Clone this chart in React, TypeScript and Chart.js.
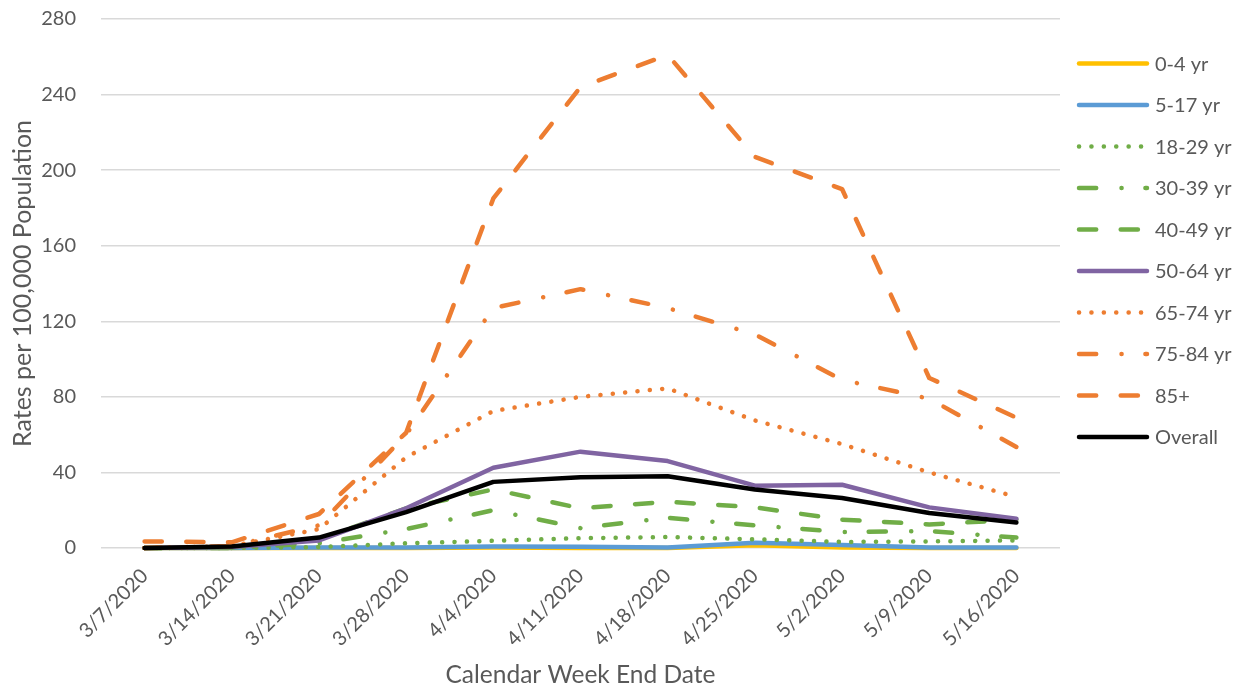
import { useEffect, useRef } from "react";
import { Chart, registerables } from "chart.js";

Chart.register(...registerables);

const FONT = "Lato, 'Open Sans', sans-serif";
const TEXT = "#595959";
const GRID = "#d9d9d9";

// Week-ending dates (x categories)
const weeks = [
  "3/7/2020", "3/14/2020", "3/21/2020", "3/28/2020", "4/4/2020", "4/11/2020",
  "4/18/2020", "4/25/2020", "5/2/2020", "5/9/2020", "5/16/2020",
];

// Weekly rates per 100,000 population by age group
const age0to4 = [0, 0, 0, 0, 0.3, 0, 0, 1.5, 0.3, 0, 0];
const age5to17 = [0, 0, 0.2, 0.3, 0.8, 0.6, 0.3, 2.8, 1.6, 0.3, 0.3];
const age18to29 = [0, 0, 0.5, 2.5, 3.8, 5.2, 5.8, 4.6, 3.2, 3.5, 4];
const age30to39 = [0, 0, 2.5, 10, 20, 10.5, 16, 12, 8.5, 9, 5.5];
const age40to49 = [0, 0.3, 4.5, 21, 31, 21, 24.5, 21.5, 15, 12.5, 15];
const age50to64 = [0, 0.5, 4, 21, 42.5, 51, 46, 33, 33.5, 21.5, 15.5];
const age65to74 = [0, 1, 10, 48, 72.5, 80, 84.5, 67.5, 55, 40, 27];
const age75to84 = [0, 1, 12, 60, 127, 137, 127, 113, 89, 79, 53.5];
const age85plus = [3.5, 3, 18, 61, 185, 244, 261, 207, 190, 90, 69];
const overall = [0, 0.8, 5.5, 19, 35, 37.5, 38, 31, 26.5, 18.5, 13.5];

const seriesNames = [
  "0-4 yr", "5-17 yr", "18-29 yr", "30-39 yr", "40-49 yr",
  "50-64 yr", "65-74 yr", "75-84 yr", "85+", "Overall",
];
const seriesValues = [
  age0to4, age5to17, age18to29, age30to39, age40to49,
  age50to64, age65to74, age75to84, age85plus, overall,
];

// Line styles
const SOLID: number[] = [];
const DOT = [0.1, 12.3];
const DASH = [17.2, 24.5];
const DASH_DOT = [17.2, 25.3, 0.1, 23.8];

const seriesColors = [
  "#FFC000", "#5B9BD5", "#70AD47", "#70AD47", "#70AD47",
  "#8064A2", "#ED7D31", "#ED7D31", "#ED7D31", "#000000",
];
const seriesDashes = [SOLID, SOLID, DOT, DASH_DOT, DASH, SOLID, DOT, DASH_DOT, DASH, SOLID];

const LINE_W = 4.5;

// Legend drawn to the right of the plot area, one row per series
const sideLegend = {
  id: "sideLegend",
  afterDraw(chart: any) {
    const { ctx, chartArea } = chart;
    const x0 = chartArea.right + 19;
    const x1 = x0 + 68;
    ctx.save();
    chart.data.datasets.forEach((ds: any, i: number) => {
      const y = 63.5 + i * 41.5;
      ctx.beginPath();
      ctx.strokeStyle = ds.borderColor;
      ctx.lineWidth = ds.borderWidth;
      ctx.lineCap = "round";
      ctx.setLineDash(ds.borderDash || []);
      ctx.moveTo(x0, y);
      ctx.lineTo(x1, y);
      ctx.stroke();
      ctx.setLineDash([]);
      ctx.fillStyle = TEXT;
      ctx.font = `20px ${FONT}`;
      ctx.textAlign = "left";
      ctx.textBaseline = "middle";
      ctx.fillText(ds.label, x1 + 8, y + 1);
    });
    ctx.restore();
  },
};

export default function App() {
  const canvasRef = useRef<HTMLCanvasElement | null>(null);

  useEffect(() => {
    if (!canvasRef.current) return;
    const n = seriesNames.length;
    const chart = new Chart(canvasRef.current, {
      type: "line",
      data: {
        labels: weeks,
        datasets: seriesNames.map((name, i) => ({
          label: name,
          data: seriesValues[i],
          borderColor: seriesColors[i],
          backgroundColor: seriesColors[i],
          borderWidth: LINE_W,
          borderDash: seriesDashes[i],
          borderCapStyle: "round" as const,
          borderJoinStyle: "round" as const,
          pointRadius: 0,
          tension: 0,
          fill: false,
          clip: false as any,
          order: n - i,
        })),
      },
      options: {
        animation: false,
        responsive: false,
        events: [],
        layout: { padding: { top: 19, right: 184, bottom: 0, left: 0 } },
        plugins: {
          legend: { display: false },
          tooltip: { enabled: false },
        },
        scales: {
          x: {
            offset: true,
            grid: { display: false, drawTicks: false },
            border: { display: false },
            ticks: {
              autoSkip: false,
              maxRotation: 45,
              minRotation: 45,
              padding: 16,
              color: TEXT,
              font: { family: FONT, size: 20 },
            },
            title: {
              display: true,
              text: "Calendar Week End Date",
              color: TEXT,
              font: { family: FONT, size: 24.5 },
              padding: { top: 0, bottom: 0 },
            },
            afterFit(scale: any) {
              scale.height = 142;
            },
          },
          y: {
            min: 0,
            max: 280,
            grid: {
              color: GRID,
              lineWidth: 1.5,
              drawTicks: true,
              tickLength: 25,
              tickColor: "rgba(0,0,0,0)",
            },
            border: { display: false },
            ticks: {
              stepSize: 40,
              padding: 0,
              color: TEXT,
              font: { family: FONT, size: 20 },
            },
            title: {
              display: true,
              text: "Rates per 100,000 Population",
              color: TEXT,
              font: { family: FONT, size: 25 },
              padding: { top: 8, bottom: 0 },
            },
            afterFit(scale: any) {
              scale.width = 101;
            },
          },
        },
      },
      plugins: [sideLegend],
    });
    return () => chart.destroy();
  }, []);

  return (
    <div style={{ position: "absolute", left: 0, top: 0, width: 1244, height: 690, background: "#fff" }}>
      <canvas ref={canvasRef} width={1244} height={690} style={{ display: "block" }} />
    </div>
  );
}
